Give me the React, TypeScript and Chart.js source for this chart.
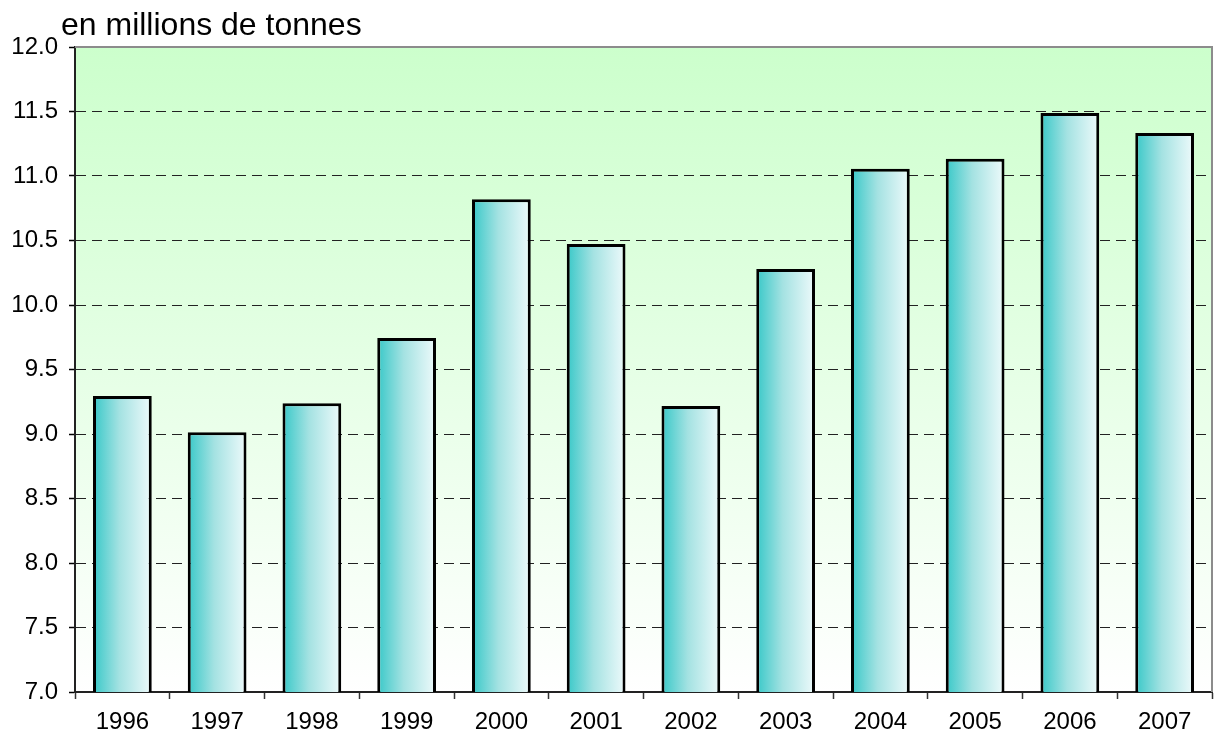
import React, { useEffect, useRef } from "react";
import { Chart, registerables } from "chart.js";

Chart.register(...registerables);

const years = ["1996", "1997", "1998", "1999", "2000", "2001", "2002", "2003", "2004", "2005", "2006", "2007"];
const tonnes = [9.295, 9.013, 9.238, 9.744, 10.819, 10.473, 9.217, 10.279, 11.057, 11.134, 11.488, 11.333];
const unitLabel = "en millions de tonnes";
const yMin = 7.0;
const yMax = 12.0;
const yStep = 0.5;

const FONT = "'Liberation Sans', Arial, sans-serif";

const bgPlugin = {
  id: "bgPlugin",
  beforeDraw(chart: any) {
    const { ctx, chartArea } = chart;
    if (!chartArea) return;
    const g = ctx.createLinearGradient(0, chartArea.top, 0, chartArea.bottom);
    g.addColorStop(0, "#ccffcc");
    g.addColorStop(1, "#ffffff");
    ctx.save();
    ctx.fillStyle = g;
    ctx.fillRect(chartArea.left, chartArea.top, chartArea.right - chartArea.left, chartArea.bottom - chartArea.top);
    ctx.restore();
  },
  afterDraw(chart: any) {
    const { ctx, chartArea } = chart;
    ctx.save();
    ctx.strokeStyle = "#8c8c8c";
    ctx.lineWidth = 2;
    ctx.beginPath();
    ctx.moveTo(chartArea.left, chartArea.top);
    ctx.lineTo(chartArea.right, chartArea.top);
    ctx.lineTo(chartArea.right, chartArea.bottom);
    ctx.stroke();
    ctx.fillStyle = "#000";
    ctx.font = `32px ${FONT}`;
    ctx.textBaseline = "alphabetic";
    ctx.textAlign = "left";
    ctx.fillText(unitLabel, 61, 35);
    ctx.restore();
  },
};

export default function App() {
  const ref = useRef<HTMLCanvasElement | null>(null);
  useEffect(() => {
    document.body.style.margin = "0";
    const canvas = ref.current!;
    const chart = new Chart(canvas, {
      type: "bar",
      data: {
        labels: years,
        datasets: [
          {
            data: tonnes,
            backgroundColor: (c: any) => {
              const ch = c.chart;
              const xs = ch.scales?.x;
              if (!ch.chartArea || !xs) return "#7fd8d8";
              const cx = xs.getPixelForValue(c.dataIndex);
              const w = ((ch.chartArea.right - ch.chartArea.left) / years.length) * 0.62;
              const g = ch.ctx.createLinearGradient(cx - w / 2, 0, cx + w / 2, 0);
              g.addColorStop(0, "#38c8c8");
              g.addColorStop(0.45, "#a4e2e2");
              g.addColorStop(1, "#eefafb");
              return g;
            },
            borderColor: "#000",
            borderWidth: 3,
            borderSkipped: false,
            barPercentage: 0.62,
            categoryPercentage: 1,
          },
        ],
      },
      options: {
        animation: false,
        responsive: false,
        layout: { padding: { top: 47, right: 3, left: 0, bottom: 0 } },
        plugins: { legend: { display: false }, tooltip: { enabled: false }, title: { display: false } },
        scales: {
          x: {
            offset: true,
            afterFit: (s: any) => {
              s.height = 51;
            },
            grid: {
              offset: true,
              drawOnChartArea: false,
              drawTicks: true,
              tickLength: 7,
              tickColor: "#333",
              tickWidth: 1.5,
            },
            border: { display: true, color: "#222", width: 2 },
            ticks: { color: "#000", font: { family: FONT, size: 24 }, padding: 9 },
          },
          y: {
            min: yMin,
            max: yMax,
            afterFit: (s: any) => {
              s.width = 75;
            },
            ticks: {
              stepSize: yStep,
              color: "#000",
              font: { family: FONT, size: 24 },
              padding: 11,
              callback: (v: any) => Number(v).toFixed(1),
            },
            grid: {
              color: (c: any) => (c.tick && (c.tick.value === yMin || c.tick.value === yMax) ? "rgba(0,0,0,0)" : "#222"),
              lineWidth: 1,
              tickLength: 6,
              tickColor: "#000",
              tickWidth: 1.5,
              tickBorderDash: [],
            },
            border: { display: true, color: "#222", width: 2, dash: [10, 6] },
          },
        },
      },
      plugins: [bgPlugin],
    } as any);
    return () => chart.destroy();
  }, []);
  return (
    <div style={{ width: 1215, height: 743 }}>
      <canvas ref={ref} width={1215} height={743} style={{ display: "block" }} />
    </div>
  );
}
